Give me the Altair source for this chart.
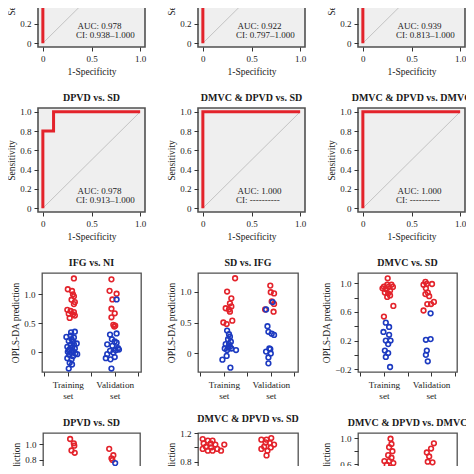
import altair as alt
import pandas as pd

FONT = "Liberation Serif"
RED = "#e3232b"
BLUE = "#1c3ac0"
INK = "#1a1a1a"

# ---------------- ROC panels ----------------
roc_titles = ["IFG vs. NI", "SD vs. IFG", "DMVC vs. SD",
              "DPVD vs. SD", "DMVC & DPVD vs. SD", "DMVC & DPVD vs. DMVC"]
roc_fpr = [
    [0, 0, 0.05, 0.05, 0.1, 0.1, 1],
    [0, 0, 0.1, 0.1, 0.2, 0.2, 1],
    [0, 0, 0.15, 0.15, 1],
    [0, 0, 0.11, 0.11, 1],
    [0, 0, 1],
    [0, 0, 1],
]
roc_tpr = [
    [0, 0.9, 0.9, 0.95, 0.95, 1, 1],
    [0, 0.42, 0.42, 0.75, 0.75, 1, 1],
    [0, 0.85, 0.85, 1, 1],
    [0, 0.8, 0.8, 1, 1],
    [0, 1, 1],
    [0, 1, 1],
]
roc_auc = ["0.978", "0.922", "0.939", "0.978", "1.000", "1.000"]
roc_ci = ["0.938\u20131.000", "0.797\u20131.000", "0.813\u20131.000",
          "0.913\u20131.000", "----------", "----------"]

# ---------------- OPLS-DA prediction panels ----------------
sc_titles = ["IFG vs. NI", "SD vs. IFG", "DMVC vs. SD",
             "DPVD vs. SD", "DMVC & DPVD vs. SD", "DMVC & DPVD vs. DMVC"]

# IFG vs. NI
s1_red_x = [1.13, 1.0, 1.09, 1.11, 1.13, 1.08, 1.15, 1.13, 0.99, 1.06, 1.13, 1.02, 1.11, 1.15, 1.04,
            1.93, 1.89, 2.04, 1.95, 1.93, 2.0, 1.93, 1.97, 2.01, 1.99]
s1_red_y = [1.275, 1.088, 1.058, 1.0, 0.965, 0.906, 0.865, 0.83, 0.73, 0.71, 0.69, 0.66, 0.65, 0.63, 0.59,
            1.26, 1.06, 1.01, 0.91, 0.75, 0.67, 0.60, 0.47, 0.455, 0.44]
s1_blue_x = [1.07, 1.15, 0.97, 1.06, 1.13, 1.02, 1.11, 1.19, 1.06, 0.99, 1.09, 1.15, 1.04, 1.11, 1.0,
             1.07, 1.16, 1.03, 1.11, 1.2, 0.99, 1.08, 1.04, 1.09, 1.02, 1.13, 1.02, 1.08,
             2.04, 1.9, 2.04, 1.94, 2.0, 1.84, 1.95, 2.07, 2.02, 1.9, 1.97, 2.09, 1.81, 1.91, 2.0,
             1.84, 1.93, 2.04]
s1_blue_y = [0.34, 0.35, 0.26, 0.28, 0.25, 0.19, 0.18, 0.145, 0.12, 0.088, 0.076, 0.059, 0.041, 0.018, 0.0,
             -0.017, -0.03, -0.052, -0.076, -0.04, -0.11, -0.13, -0.19, -0.22, -0.29, 0.13, 0.03, 0.22,
             0.91, 0.3, 0.32, 0.22, 0.18, 0.13, 0.105, 0.064, 0.03, 0.018, -0.01, 0.04, -0.11, -0.13, -0.09,
             -0.04, -0.29, 0.16]

# SD vs. IFG
s2_red_x = [1.24, 1.07, 1.16, 1.13, 1.04, 1.11, 1.16, 1.13, 0.99, 1.06, 1.18,
            1.99, 2.0, 2.07, 2.02, 2.07, 1.88, 2.06]
s2_red_y = [1.215, 1.0, 0.89, 0.81, 0.73, 0.71, 0.76, 0.675, 0.50, 0.475, 0.53,
            1.096, 0.99, 0.97, 0.84, 0.80, 0.71, 0.675]
s2_blue_x = [1.07, 1.11, 1.13, 1.09, 1.15, 1.04, 1.11, 1.09, 1.02, 1.16, 1.26, 1.07, 1.13, 0.97, 1.06, 1.14,
             2.04, 1.9, 1.93, 1.95, 2.02, 2.07, 1.99, 1.9, 2.0, 1.95, 1.95, 1.97]
s2_blue_y = [0.37, 0.31, 0.27, 0.23, 0.19, 0.15, 0.15, 0.095, 0.08, 0.08, 0.055, 0.055, 0.11, -0.1, -0.04, -0.23,
             0.83, 0.71, 0.44, 0.35, 0.32, 0.30, 0.07, 0.03, 0.0, -0.065, -0.16, 0.08]

# DMVC vs. SD
s3_red_x = [1.08, 1.0, 1.07, 1.16, 0.97, 1.04, 1.13, 1.09, 1.02, 1.13, 1.07, 1.19, 1.1, 1.2, 1.0,
            1.88, 1.91, 2.02, 1.84, 1.89, 1.93, 1.88, 1.96, 1.92, 2.0, 2.06, 1.84]
s3_red_y = [1.07, 0.953, 0.98, 0.98, 0.93, 0.92, 0.90, 0.86, 0.87, 0.83, 0.81, 0.95, 0.95, 0.684, 0.535,
            1.02, 0.99, 0.99, 0.98, 0.93, 0.87, 0.85, 0.82, 0.71, 0.71, 0.74, 0.62]
s3_blue_x = [1.04, 1.11, 0.99, 1.11, 1.04, 1.14, 1.09, 1.02, 1.09, 1.04, 1.13,
             1.99, 1.89, 1.99, 1.91, 1.89, 1.93]
s3_blue_y = [0.45, 0.39, 0.32, 0.28, 0.20, 0.20, 0.15, 0.06, 0.025, -0.03, -0.17,
             0.58, 0.21, 0.22, 0.06, 0.0, -0.09]

# DPVD vs. SD
s4_red_x = [1.04, 1.12, 1.13, 1.07, 1.14, 1.08, 1.89, 1.98, 1.94, 1.96, 1.88]
s4_red_y = [1.064, 1.01, 0.98, 0.92, 0.89, 0.65, 0.94, 0.86, 0.82, 0.80, 0.66]
s4_blue_x = [2.02]
s4_blue_y = [0.76]

# DMVC & DPVD vs. SD
s5_red_x = [0.55, 0.66, 0.76, 0.57, 0.72, 0.82, 0.62, 0.73, 0.86, 0.55, 0.66, 0.76, 1.01, 0.94,
            1.80, 1.91, 2.01, 1.89, 1.98, 1.86, 2.07, 2.0, 1.80, 1.93, 1.91]
s5_red_y = [1.116, 1.094, 1.094, 1.056, 1.056, 1.04, 1.01, 1.0, 0.98, 0.98, 0.955, 0.955, 1.04, 0.955,
            1.108, 1.108, 1.13, 1.07, 1.06, 1.01, 1.04, 1.0, 0.98, 0.955, 0.89]
s5_blue_x = []
s5_blue_y = []

# DMVC & DPVD vs. DMVC
s6_red_x = [1.14, 1.16, 1.11, 1.18, 1.09, 1.16, 1.01, 1.11, 1.2, 1.06, 1.14, 1.18,
            2.06, 2.0, 1.91, 1.96, 1.93, 2.03, 1.96]
s6_red_y = [0.99, 0.91, 0.86, 0.80, 0.74, 0.70, 0.65, 0.65, 0.62, 0.59, 0.55, 0.51,
            0.92, 0.84, 0.78, 0.72, 0.64, 0.63, 0.52]
s6_blue_x = []
s6_blue_y = []

sc_red_x = [s1_red_x, s2_red_x, s3_red_x, s4_red_x, s5_red_x, s6_red_x]
sc_red_y = [s1_red_y, s2_red_y, s3_red_y, s4_red_y, s5_red_y, s6_red_y]
sc_blue_x = [s1_blue_x, s2_blue_x, s3_blue_x, s4_blue_x, s5_blue_x, s6_blue_x]
sc_blue_y = [s1_blue_y, s2_blue_y, s3_blue_y, s4_blue_y, s5_blue_y, s6_blue_y]

# axis layouts of the prediction panels
sc_ydomain = [[-0.35, 1.37], [-0.30, 1.30], [-0.24, 1.144],
              [-0.11, 1.14], [-0.17, 1.20], [-0.43, 1.077]]
sc_yticks = [[0, 0.5, 1.0], [0, 0.5, 1.0], [-0.2, 0, 0.2, 0.4, 0.6, 0.8, 1.0],
             [0, 0.2, 0.4, 0.6, 0.8, 1.0], [0, 0.2, 0.4, 0.6, 0.8, 1.0, 1.2],
             [-0.4, -0.2, 0, 0.2, 0.4, 0.6, 0.8, 1.0]]
sc_ylabels = [[0, 0.5, 1.0], [0, 0.5, 1.0], [-0.2, 0.2, 0.6, 1.0],
              [0, 0.2, 0.4, 0.6, 0.8, 1.0], [0, 0.4, 0.8, 1.2],
              [-0.2, 0.2, 0.6, 1.0]]
sc_xdomain = [[0.45, 2.56], [0.45, 2.58], [0.45, 2.55],
              [0.45, 2.56], [0.45, 2.58], [0.45, 2.55]]
sc_width = [99, 100, 99, 97, 100, 99]
group_ticks = [0.5, 1, 1.5, 2, 2.5]

ROC_W, ROC_H = 107, 104
SC_H = 99
AUC_POS = (0.355, 0.18)   # annotation anchor (data units)
CI_POS = (0.34, 0.08)


def title(t):
    return alt.TitleParams(t, font=FONT, fontSize=10, fontWeight="bold",
                           color=INK, offset=5, anchor="middle")


def roc_panel(i):
    df = pd.DataFrame({"fpr": roc_fpr[i], "tpr": roc_tpr[i],
                       "o": list(range(len(roc_fpr[i])))})
    x = alt.X("fpr:Q", scale=alt.Scale(domain=[-0.05, 1.05], nice=False, zero=False),
              axis=alt.Axis(values=[0, 0.5, 1.0], title="1-Specificity",
                            labelExpr="datum.value == 0 ? '0' : format(datum.value, '.1f')"))
    y = alt.Y("tpr:Q", scale=alt.Scale(domain=[-0.04, 1.04], nice=False, zero=False),
              axis=alt.Axis(values=[0, 0.2, 0.4, 0.6, 0.8, 1.0], title="Sensitivity",
                            labelExpr="datum.value == 0 ? '0' : format(datum.value, '.1f')"))
    diag = alt.Chart(pd.DataFrame({"fpr": [0, 1], "tpr": [0, 1]})).mark_line(
        color="#bdbdbd", strokeWidth=0.9).encode(x=x, y=y)
    curve = alt.Chart(df).mark_line(color=RED, strokeWidth=3, strokeJoin="miter",
                                    clip=True).encode(x=x, y=y, order="o:Q")
    notes = pd.DataFrame({
        "fpr": [AUC_POS[0], CI_POS[0]],
        "tpr": [AUC_POS[1], CI_POS[1]],
        "t": ["AUC: " + roc_auc[i], "CI: " + roc_ci[i]],
    })
    txt = alt.Chart(notes).mark_text(
        align="left", baseline="middle", font=FONT, fontSize=9, color=INK
    ).encode(x=x, y=y, text="t:N")
    return alt.layer(diag, curve, txt).properties(
        width=ROC_W, height=ROC_H, title=title(roc_titles[i]),
        view=alt.ViewBackground(fill="#efefef", stroke="#505050", strokeWidth=1.6))


def label_expr(vals):
    conds = " || ".join(f"abs(datum.value - ({v})) < 1e-6" for v in vals)
    return (f"({conds}) ? (abs(datum.value) < 1e-6 ? '0' : format(datum.value, '.1f')) : ''")


def scatter_panel(i):
    rows = []
    for xv, yv in zip(sc_red_x[i], sc_red_y[i]):
        rows.append({"x": xv, "y": yv, "g": "case"})
    for xv, yv in zip(sc_blue_x[i], sc_blue_y[i]):
        rows.append({"x": xv, "y": yv, "g": "control"})
    df = pd.DataFrame(rows)
    return alt.Chart(df).mark_point(filled=False, size=22, strokeWidth=1.6, opacity=1).encode(
        x=alt.X("x:Q", scale=alt.Scale(domain=sc_xdomain[i], nice=False, zero=False),
                axis=alt.Axis(values=group_ticks, title=None, labelFontSize=9.2, labelPadding=4,
                              labelExpr="datum.value == 1 ? ['Training', 'set'] : "
                                        "datum.value == 2 ? ['Validation', 'set'] : ''")),
        y=alt.Y("y:Q", scale=alt.Scale(domain=sc_ydomain[i], nice=False, zero=False),
                axis=alt.Axis(values=sc_yticks[i], title="OPLS-DA prediction",
                              labelExpr=label_expr(sc_ylabels[i]))),
        color=alt.Color("g:N", scale=alt.Scale(domain=["case", "control"], range=[RED, BLUE]),
                        legend=None),
    ).properties(width=sc_width[i], height=SC_H, title=title(sc_titles[i]),
                 view=alt.ViewBackground(fill="white", stroke="#505050", strokeWidth=1.3))


panels = [roc_panel(i) for i in range(6)] + [scatter_panel(i) for i in range(6)]

chart = alt.concat(*panels, columns=3, spacing={"row": 61, "column": 53},
                   bounds="flush", align="each", center=True).properties(
    autosize=alt.AutoSizeParams(type="none"),
    padding={"left": 30, "top": -65, "right": 428, "bottom": 523},
    background="white",
).configure_axis(
    labelFont=FONT, labelFontSize=9, labelColor=INK,
    titleFont=FONT, titleFontSize=9.5, titleFontWeight="normal", titleColor=INK,
    tickColor="#333333", tickSize=4, tickWidth=1, domain=False, grid=False,
    labelPadding=3, titlePadding=3, labelLineHeight=11,
    labelOverlap=False, labelFlush=False, labelBound=False,
)

chart.save("out.html", embed_options={"renderer": "svg", "actions": False})
